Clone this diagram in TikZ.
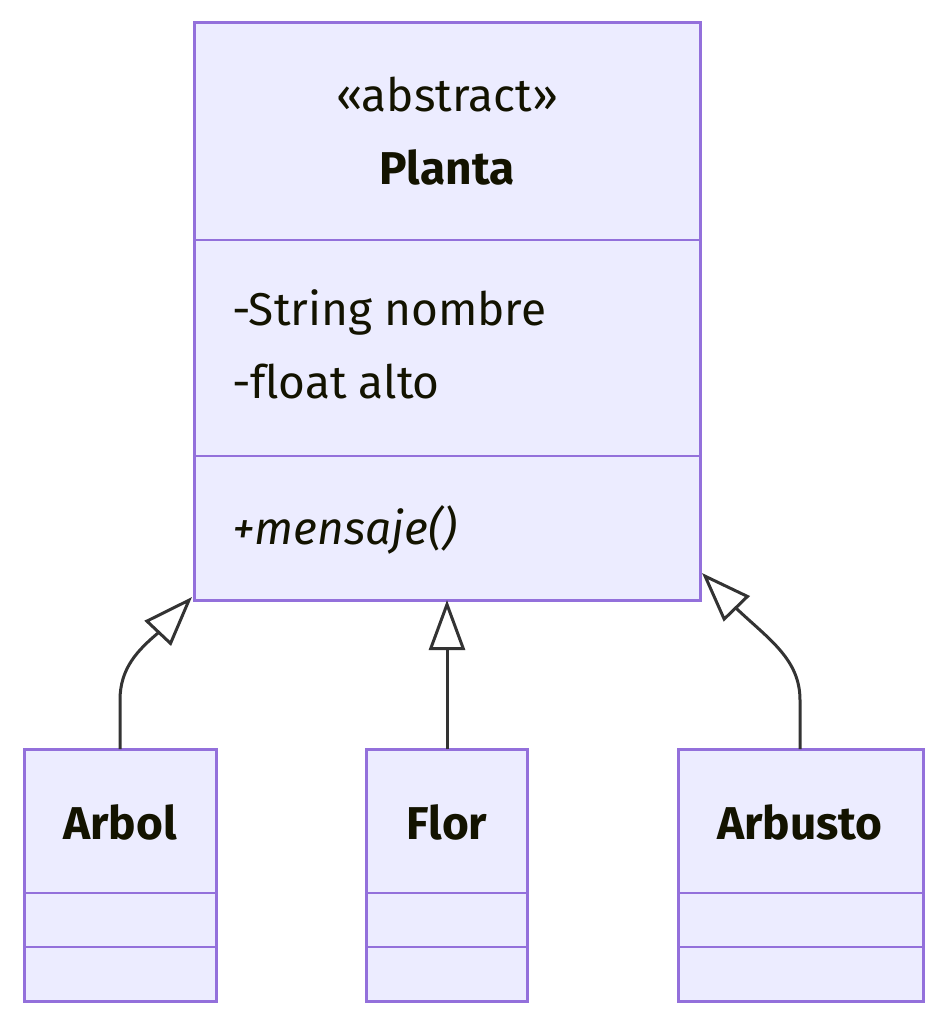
\documentclass[tikz,border=0pt]{standalone}
\usepackage{fontspec}
\setmainfont[Ligatures=NoCommon]{Fira Sans}
\usetikzlibrary{arrows.meta}
\definecolor{clsfill}{HTML}{ECECFF}
\definecolor{clsline}{HTML}{9370DB}
\definecolor{txt}{HTML}{131300}
\definecolor{edge}{HTML}{333333}
\tikzset{
  clsbox/.style={draw=clsline, fill=clsfill, line width=3pt, inner sep=0pt, outer sep=0pt},
  divider/.style={draw=clsline, line width=2.5pt},
  lbl/.style={text=txt, inner sep=0pt, font=\fontsize{46}{54}\selectfont},
  namelbl/.style={lbl, font=\fontsize{46}{54}\selectfont\bfseries},
  attr/.style={lbl, anchor=west},
  inh/.style={draw=edge, line width=3pt, -{Triangle[open, length=50pt, width=36pt, line width=3pt]}},
}
\begin{document}
\begin{tikzpicture}[x=1pt,y=-1pt]
\useasboundingbox (0,0) rectangle (948,1026);
% Planta
\node[clsbox, minimum width=506pt, minimum height=578pt, anchor=north west] (planta) at (194,22) {};
\draw[divider] (194,240) -- (700,240);
\draw[divider] (194,456) -- (700,456);
\node[lbl] (stereo) at (447,95) {«abstract»};
\node[namelbl] (pname) at (447,167) {Planta};
\node[attr] (a1) at (232,312) {-String nombre};
\node[attr] (a2) at (232,382) {-float alto};
\node[attr, font=\fontsize{46}{54}\selectfont\itshape] (m1) at (232,530) {+mensaje()};
% Arbol
\node[clsbox, minimum width=192pt, minimum height=252pt, anchor=north west] (arbol) at (24,749) {};
\draw[divider] (24,893) -- (216,893);
\draw[divider] (24,947) -- (216,947);
\node[namelbl] (arbolname) at (120,822) {Arbol};
% Flor
\node[clsbox, minimum width=161pt, minimum height=252pt, anchor=north west] (flor) at (366,749) {};
\draw[divider] (366,893) -- (527,893);
\draw[divider] (366,947) -- (527,947);
\node[namelbl] (florname) at (447,822) {Flor};
% Arbusto
\node[clsbox, minimum width=245pt, minimum height=252pt, anchor=north west] (arbusto) at (678,749) {};
\draw[divider] (678,893) -- (923,893);
\draw[divider] (678,947) -- (923,947);
\node[namelbl] (arbustoname) at (800,822) {Arbusto};
% edges
\coordinate (tipA) at ([shift={(-2,-3)}]planta.south west);
\coordinate (tipB) at ([shift={(2,-27)}]planta.south east);
\draw[inh] (arbol.north -| 120,0) -- (120,700) .. controls (120,668) and (138,650) .. (158,633) -- (tipA);
\draw[inh] (flor.north -| 447,0) -- (planta.south -| 447,0);
\draw[inh] (arbusto.north -| 800,0) -- (800,700) .. controls (800,660) and (770,640) .. (738,610) -- (tipB);
\end{tikzpicture}
\end{document}
